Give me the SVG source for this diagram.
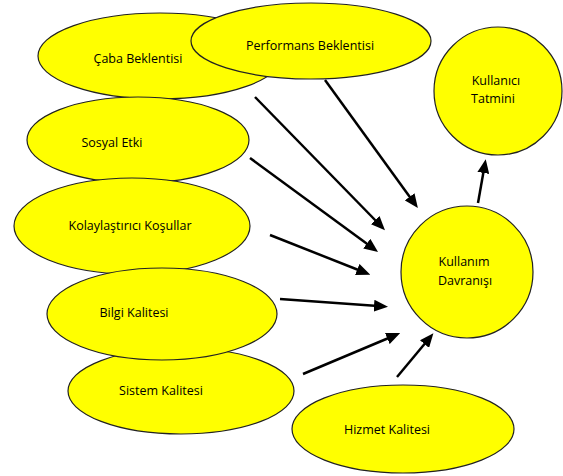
<svg xmlns="http://www.w3.org/2000/svg" width="563" height="476" viewBox="0 0 563 476">
<style>
.n{fill:#FFFF00;stroke:#222;stroke-width:1.2}
.t{font-family:"Open Sans","Noto Sans",sans-serif;font-size:12.5px;fill:#000;text-anchor:middle;dominant-baseline:middle}
.c{stroke:#000;stroke-width:2.5;fill:none;marker-end:url(#ah)}
</style>
<defs>
<marker id="ah" markerUnits="userSpaceOnUse" markerWidth="14" markerHeight="12" refX="4" refY="6" orient="auto">
<path d="M0,0 L14,6 L0,12 z" fill="#000"/>
</marker>
</defs>
<rect width="563" height="476" fill="#fff"/>
<g id="caba"><ellipse class="n" cx="160" cy="56" rx="122" ry="43"/><text class="t" x="138" y="60">Çaba Beklentisi</text></g>
<g id="performans"><ellipse class="n" cx="311" cy="41" rx="120" ry="38"/><text class="t" x="310" y="47">Performans Beklentisi</text></g>
<g id="sosyal"><ellipse class="n" cx="138" cy="140" rx="111" ry="43"/><text class="t" x="112" y="144">Sosyal Etki</text></g>
<g id="kolay"><ellipse class="n" cx="132" cy="226" rx="118" ry="48"/><text class="t" x="130" y="227">Kolaylaştırıcı Koşullar</text></g>
<g id="sistem"><ellipse class="n" cx="181" cy="391" rx="113" ry="43"/><text class="t" x="161" y="392">Sistem Kalitesi</text></g>
<g id="bilgi"><ellipse class="n" cx="162" cy="314" rx="115" ry="46"/><text class="t" x="134" y="314">Bilgi Kalitesi</text></g>
<g id="hizmet"><ellipse class="n" cx="403" cy="429" rx="111" ry="44"/><text class="t" x="387" y="431">Hizmet Kalitesi</text></g>
<g id="kullanim"><circle class="n" cx="467" cy="272" r="66"/><text class="t" x="464" y="263">Kullanım</text><text class="t" x="465" y="282">Davranışı</text></g>
<g id="tatmin"><circle class="n" cx="498" cy="91" r="64"/><text class="t" x="496" y="82">Kullanıcı</text><text class="t" x="493" y="100">Tatmini</text></g>
<g id="connectors">
<line class="c" x1="255" y1="97" x2="378" y2="223"/>
<line class="c" x1="325" y1="80" x2="412" y2="200"/>
<line class="c" x1="250" y1="158" x2="370" y2="246"/>
<line class="c" x1="270" y1="235" x2="361" y2="271"/>
<line class="c" x1="280" y1="299" x2="378" y2="306"/>
<line class="c" x1="303" y1="374" x2="391" y2="337"/>
<line class="c" x1="397" y1="377" x2="427" y2="341"/>
<line class="c" x1="478" y1="203" x2="484" y2="169"/>
</g>
</svg>
